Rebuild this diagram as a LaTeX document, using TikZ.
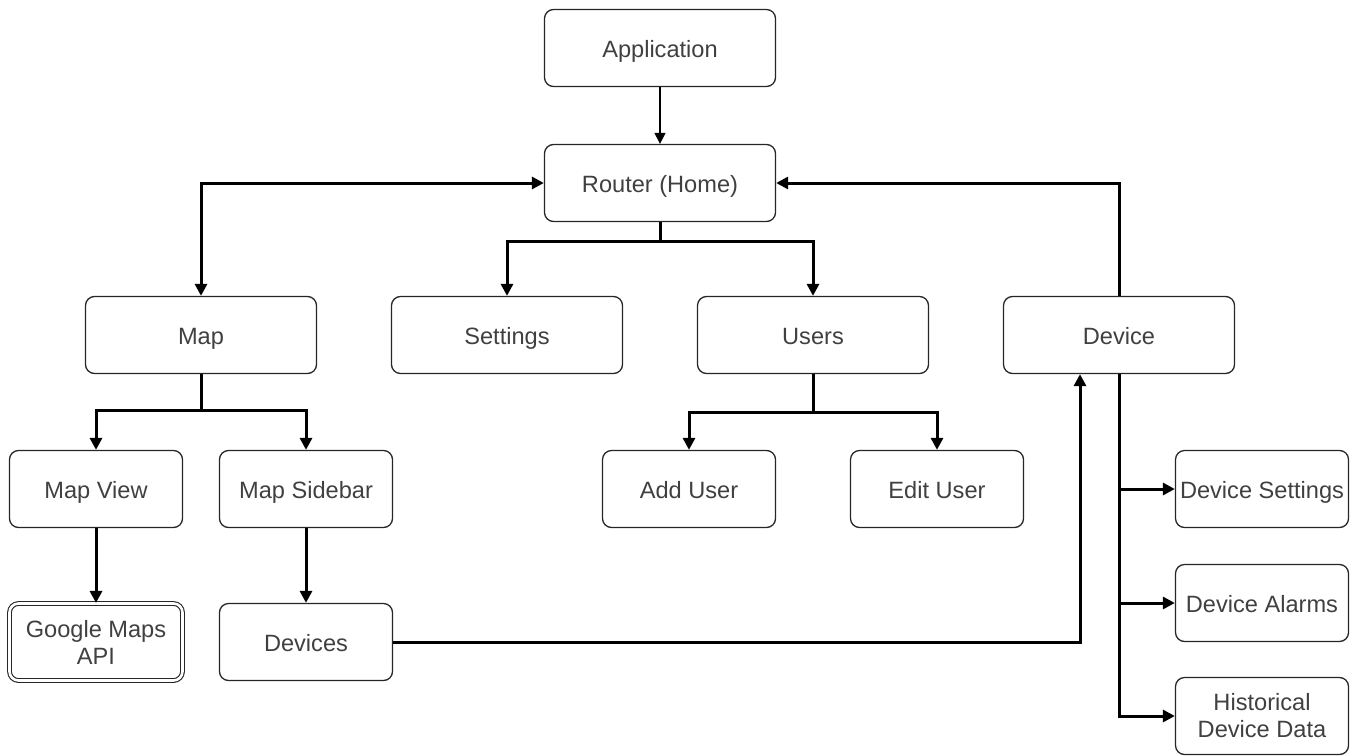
\documentclass[tikz,border=0pt]{standalone}
\usepackage{fontspec}
\setmainfont{Liberation Sans}
\usepackage{tikz}
\usetikzlibrary{positioning}
\usetikzlibrary{arrows.meta}
\definecolor{labelgray}{HTML}{404040}
\tikzset{node distance=76.5pt, % One row of boxes (153px). Change if necessary.
every node/.style={ % Text of every box
font=\fontsize{11.8pt}{13.5pt}\selectfont,
text=labelgray,
align=center},
page/.style={ % Sets the properties for each page box
draw=black!85,
line width=0.65pt,
rounded corners=4.5pt,
minimum width=115.5pt,
minimum height=38.5pt,
text height=10pt, % Same baseline in every one-line box
text depth=0.5pt,
inner sep=0pt},
subpage/.style={ % Narrower boxes of the lower rows
page,
minimum width=86.5pt},
twolines/.style={ % Two-line boxes keep their natural size
text height={},
text depth={}},
external/.style={ % Outside service, double border
subpage,
double,
double distance=1.3pt,
line width=0.55pt},
link/.style={ % Sets the properties for each connector
draw,
-{Triangle[length=6pt,width=6pt]}, % Filled arrow heads
line width=1.5pt},
thinlink/.style={
draw,
-{Triangle[length=5.5pt,width=5.5pt]},
line width=0.65pt}}

\begin{document}
\begin{tikzpicture}[x=0.5pt,y=-0.5pt]
					\useasboundingbox (0,0) rectangle (1359,755);

					\node[page] (app) at (660,48) {Application};
					\node[page] (router) at (660,183) {Router (Home)};
					\node[page] (map) at (201,335) {Map};
					\node[page] (settings) at (507,335) {Settings};
					\node[page] (users) at (813,335) {Users};
					\node[page] (device) at (1119,335) {Device};

					\node[subpage] (mapview) at (96,489) {Map View};
					\node[subpage] (sidebar) at (306,489) {Map Sidebar};
					\node[subpage] (adduser) at (689,489) {Add User};
					\node[subpage] (edituser) at (937,489) {Edit User};
					\node[external, twolines, below of=mapview] (gmaps) {Google Maps\\API};
					\node[subpage, below of=sidebar] (devices) {Devices};

					\node[subpage] (devsettings) at (1262,489) {Device Settings};
					\node[subpage, below of=devsettings, node distance=57pt] (devalarms) {Device Alarms};
					\node[subpage, twolines, below of=devalarms, node distance=56.5pt] (history) {Historical\\Device Data};

					\draw[thinlink] (app) -- (router);
					\draw[link, {Triangle[length=6pt,width=6pt]}-{Triangle[length=6pt,width=6pt]}] (router.west) -| (map.north);
					\draw[link] (router.south) -- ++(0,19) -| (settings);
					\draw[link] (router.south) -- ++(0,19) -| (users);
					\draw[link] (device.north) |- (router.east);

					\draw[link] (map.south) -- ++(0,36) -| (mapview);
					\draw[link] (map.south) -- ++(0,36) -| (sidebar);
					\draw[link] (users.south) -- ++(0,38) -| (adduser);
					\draw[link] (users.south) -- ++(0,38) -| (edituser);

					\draw[link] (mapview) -- (gmaps);
					\draw[link] (sidebar) -- (devices);
					\draw[link] (devices.east) -| ([xshift=-19.5pt]device.south);

					\draw[link] (device.south) |- (devsettings);
					\draw[link] (device.south) |- (devalarms);
					\draw[link] (device.south) |- (history);
				\end{tikzpicture}
\end{document}
